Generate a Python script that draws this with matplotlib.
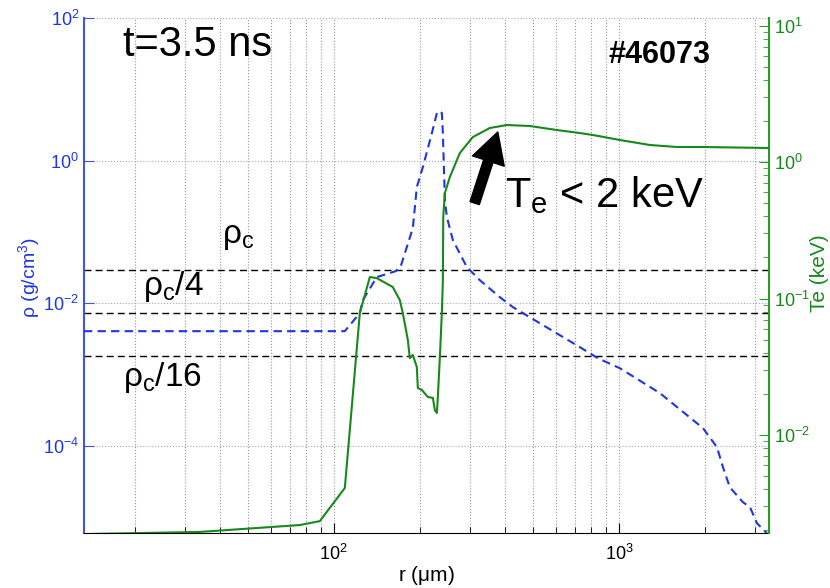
import numpy as np
import matplotlib
matplotlib.use('Agg')
import matplotlib.pyplot as plt
from matplotlib.ticker import LogLocator, NullLocator, NullFormatter, FixedLocator

plt.rcParams['font.family'] = ['Liberation Sans', 'DejaVu Sans']
plt.rcParams['mathtext.fontset'] = 'custom'
plt.rcParams['mathtext.rm'] = 'Liberation Sans'
plt.rcParams['mathtext.it'] = 'Liberation Sans:italic'
plt.rcParams['mathtext.bf'] = 'Liberation Sans:bold'

# density profile (g/cm^3) vs radius (um)
r_rho = [13.3, 109.3, 123.4, 126.4, 141.5, 165, 171.8, 189.3, 195.5, 205.3, 220.8, 229.9,
         233.5, 239.3, 241.3, 245.2, 249.2, 261.6, 292.9, 325.3, 382.3, 424.6, 460.3,
         729.5, 843.5, 1008, 1393, 1971, 2208, 2317, 2449, 2722, 2881, 3050, 3305]
rho = [0.00407, 0.00407, 0.0073, 0.0111, 0.0233, 0.0283, 0.0333, 0.1135, 0.426, 0.813, 2.44, 4.66,
       4.97, 4.66, 2.44, 0.280, 0.162, 0.0769, 0.0322, 0.0211, 0.0122, 0.00885, 0.0073,
       0.00243, 0.0017, 0.00123, 0.00055, 1.78e-4, 9.6e-5, 5.04e-5, 2.64e-5, 1.63e-5, 1.39e-5,
       8.26e-6, 5.98e-6]

# electron temperature (keV) vs radius (um)
r_te = [13.3, 33.9, 76, 89.3, 109.3, 113.8, 123.4, 133.8, 141.5, 161, 170.4, 174.6, 181.8,
        184.8, 189.3, 195.5, 197.1, 203.6, 213.7, 222.6, 226.2, 229.9, 231.7, 235.5, 239.3,
        241.3, 242, 245.2, 255.3, 276.7, 307.4, 352.7, 404.6, 487.3, 606.2, 729.5, 810.4,
        1008, 1285, 1598, 1971, 3357]
te = [1.88e-3, 1.95e-3, 2.19e-3, 2.34e-3, 4.09e-3, 0.0109, 0.0783, 0.1437, 0.141, 0.1214, 0.0975,
      0.0783, 0.0497, 0.0366, 0.0386, 0.0315, 0.0221, 0.0214, 0.019, 0.0187, 0.0152, 0.0145,
      0.019, 0.0373, 0.0783, 0.1366, 0.395, 0.593, 0.776, 1.164, 1.524, 1.775, 1.866, 1.835,
      1.715, 1.63, 1.577, 1.449, 1.332, 1.288, 1.288, 1.266]

rho_c = 0.0292
crit_levels = [rho_c, rho_c / 4, rho_c / 16]

xlim = (13.3, 3360)
ylim_rho = (10 ** -5.22, 100)
ylim_te = (10 ** -2.718, 10 ** 1.055)

blue = '#1f35e0'
blue_ax = '#4455d8'
green = '#17881a'
green_ax = '#2a9a2a'

fig = plt.figure(figsize=(8.3, 5.88), dpi=100)
ax = fig.add_axes([0.1012, 0.0935, 0.8253, 0.8759])
ax2 = ax.twinx()

for lev in crit_levels:
    ax.axhline(lev, color='black', ls=(0, (5, 3)), lw=1.0, zorder=2)
ax.plot(r_rho, rho, color=blue, ls=(0, (4, 2.5)), lw=1.5, zorder=3)
ax2.plot(r_te, te, color=green, lw=1.5, zorder=3)

for a in (ax, ax2):
    a.set_xscale('log')
    a.set_yscale('log')
    a.set_xlim(*xlim)
ax.set_ylim(*ylim_rho)
ax2.set_ylim(*ylim_te)

# x axis
ax.xaxis.set_major_locator(FixedLocator([100, 1000]))
ax.xaxis.set_minor_locator(LogLocator(base=10, subs=np.arange(2, 10)))
ax.xaxis.set_minor_formatter(NullFormatter())
ax.tick_params(axis='x', which='both', direction='in', colors='black', labelsize=13, pad=8)
ax.tick_params(axis='x', which='major', length=7)
ax.tick_params(axis='x', which='minor', length=4)

# left axis
ax.yaxis.set_major_locator(FixedLocator([1e-4, 1e-2, 1, 1e2]))
ax.yaxis.set_minor_locator(NullLocator())
ax.tick_params(axis='y', which='major', direction='in', length=7, colors=blue_ax,
               labelcolor=blue, labelsize=13)

# right axis
ax2.yaxis.set_major_locator(FixedLocator([1e-2, 1e-1, 1, 10]))
ax2.yaxis.set_minor_locator(LogLocator(base=10, subs=np.arange(2, 10)))
ax2.yaxis.set_minor_formatter(NullFormatter())
ax2.tick_params(axis='y', which='both', direction='in', colors=green_ax,
                labelcolor=green, labelsize=13)
ax2.tick_params(axis='y', which='major', length=7)
ax2.tick_params(axis='y', which='minor', length=4)

ax.grid(True, which='both', axis='x', color='#999999', ls=':', lw=0.8)
ax.grid(True, which='major', axis='y', color='#a0a0dd', ls=':', lw=0.8)
ax.set_axisbelow(True)

for a in (ax, ax2):
    a.spines['top'].set_visible(False)
ax2.spines['left'].set_visible(False)
ax2.spines['bottom'].set_visible(False)
ax.spines['left'].set_color(blue_ax)
ax.spines['left'].set_linewidth(1.5)
ax2.spines['right'].set_color(green_ax)
ax2.spines['right'].set_linewidth(1.5)
ax.spines['right'].set_visible(False)

ax.set_xlabel(r'r ($\mathregular{\mu}$m)', fontsize=15, labelpad=0)
ax.set_ylabel(r'ρ (g/cm$^\mathregular{3}$)', fontsize=14, color=blue)
ax.yaxis.set_label_coords(-0.061, 0.495)
ax2.set_ylabel('Te (keV)', fontsize=15, color=green)
ax2.yaxis.set_label_coords(1.06, 0.505)

ax.text(0.057, 0.948, 't=3.5 ns', transform=ax.transAxes, fontsize=30, va='center', ha='left')
ax.text(0.765, 0.928, '#46073', transform=ax.transAxes, fontsize=22, fontweight='bold',
        va='center', ha='left')
ax.text(0.2015, 0.575, r'ρ$_\mathregular{c}$', transform=ax.transAxes, fontsize=24, va='center')
ax.text(0.0861, 0.478, r'ρ$_\mathregular{c}$/4', transform=ax.transAxes, fontsize=24, va='center')
ax.text(0.057, 0.301, r'ρ$_\mathregular{c}$/16', transform=ax.transAxes, fontsize=24, va='center')
ax2.text(0.6146, 0.656, r'T$_\mathregular{e}$ < 2 keV', transform=ax.transAxes, fontsize=30,
         va='center', ha='left')
ax2.annotate('', xy=(376, 1.66), xytext=(312, 0.50),
             arrowprops=dict(facecolor='black', edgecolor='black', width=7, headwidth=24,
                             headlength=22, shrink=0))

fig.savefig('out.png', dpi=100)
